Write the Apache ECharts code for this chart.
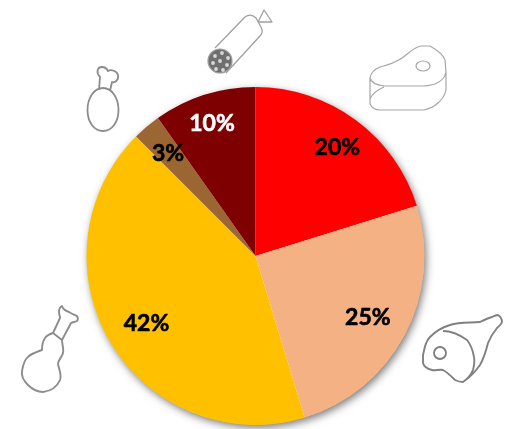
<!DOCTYPE html>
<html>
<head>
<meta charset="utf-8">
<style>html,body{margin:0;padding:0;background:#fff}#c{width:507px;height:429px}</style>
<script src="https://cdn.jsdelivr.net/npm/echarts@6/dist/echarts.min.js"></script>
</head>
<body>
<div id="c"></div>
<script>
const names = ['Red meat', 'Ham', 'Poultry', 'Chicken', 'Sausage'];
const values = [20.2, 25.1, 42.2, 2.7, 9.8];
const colors = ['#FF0000', '#F4B183', '#FFC000', '#9C6632', '#7F0000'];
const labelColors = ['#000', '#000', '#000', '#000', '#fff'];
const labelShiftX = [30, 35, -34, -31, -17];
const labelShiftY = [-38, 21, 23, -36, -49];

const iconPaths = [
  // sausage
  'M215,48 L245,17 C249,14 253,15 256,18 L261,27 C263,31 262,34 260,36 L226,73 M258,22 L272,22 L264,10 Z',
  // steak
  'M370,78 C371,72 375,69 380,67 C388,65 396,62 402,58 C408,54 414,47 421,46 L430,46 C437,50 443,54 445,60 L446,72 C445,78 440,82 435,84 C431,85 428,86 424,86 L384,86 C376,85 371,82 370,78 L370,104 C372,108 375,110 380,110 L424,110 C434,108 444,100 446,90 L446,72 M384,87 C377,90 372,94 370,99 M416,66 A7,5 0 1 0 430,66 A7,5 0 1 0 416,66 Z',
  // upper drumstick
  'M99,90 L100,77 C96,73 97,67 102,67 C105,67 107,69 108,71 C111,69 117,71 118,75 C119,80 115,83 112,82 L110,91 M87.5,110 C87.5,98 94,88 103,88 C112,88 118.5,98 118.5,110 C118.5,122 112,131 103,131 C94,131 87.5,122 87.5,110 Z',
  // lower drumstick
  'M62,306 C63,310 66,311 69,312 C72,314 75,315 77,316 C78,318 78,320 77,321 C75,322 73,322 71,323 L62,340 C62,344 64,349 63,353 C62,357 58,360 58,364 C59,369 62,375 60,380 C57,387 51,391 43,392 C37,392 31,388 28,385 C24,381 21,376 22,371 C23,365 25,359 28,357 C32,353 37,352 42,350 C42,346 43,341 45,338 C47,335 50,334 53,333 L60,318 C60,316 59,314 59,312 C59,309 60,307 62,306 Z M53,333 L62,340',
  // ham
  'M423,355 C425,346 426,341 430,337 C436,331 443,327 450,325 C460,322 470,323 480,322 C484,320 488,318 492,317 C494,316 496,315 498,315 C501,317 502,320 502,322 C501,325 499,326 497,328 C493,333 490,338 488,343 C486,351 484,358 480,365 C475,372 469,378 463,382 C460,382 457,381 455,380 C451,376 447,372 443,370 C439,369 435,371 432,370 C428,369 424,367 423,363 Z M443,331 C451,331 460,335 467,340 C471,345 473,351 474,357 C475,362 474,366 473,370 C471,375 467,379 463,382 M434,353 A6,6 0 1 0 446,353 A6,6 0 1 0 434,353 Z'
];
const iconColors = ['#a0a0a0', '#a6a6a6', '#8c8c8c', '#8c8c8c', '#808080'];
const iconWidths = [1.3, 1.2, 1.8, 1.9, 1.9];
const sausageEnd = [220, 61, 12];
const sausageDots = [[215,56],[222,53],[228,58],[213,63],[220,61],[227,65],[216,69],[223,70]];

const chart = echarts.init(document.getElementById('c'), null, {renderer: 'canvas'});
const cx = 255.5, cy = 256, R = 169;

const iconEls = [{
  type: 'circle', z2: 1,
  shape: {cx: sausageEnd[0], cy: sausageEnd[1], r: sausageEnd[2]},
  style: {fill: '#6f6f6f', stroke: '#a0a0a0', lineWidth: 1.2}
}];
sausageDots.forEach(d => iconEls.push({
  type: 'circle', z2: 2,
  shape: {cx: d[0], cy: d[1], r: 1.9},
  style: {fill: '#d8d8d8'}
}));

chart.setOption({
  animation: false,
  backgroundColor: '#ffffff',
  graphic: {
    elements: [{
      type: 'circle', z: 0,
      shape: {cx: cx, cy: cy, r: R - 0.5},
      style: {fill: '#ffffff', shadowBlur: 9, shadowOffsetX: 2, shadowOffsetY: 3, shadowColor: 'rgba(0,0,0,0.55)'}
    }]
  },
  series: [{
    type: 'pie',
    center: [cx, cy],
    radius: [0, R],
    startAngle: 90,
    clockwise: true,
    silent: true,
    data: values.map((v, i) => ({
      value: v,
      name: names[i],
      itemStyle: {color: colors[i]},
      label: {color: labelColors[i], textBorderColor: labelColors[i], textBorderWidth: 0.6}
    })),
    itemStyle: {borderWidth: 0},
    label: {
      show: true,
      position: 'inside',
      formatter: p => Math.round(p.value) + '%',
      fontFamily: 'Lato',
      fontWeight: 'bold',
      fontSize: 23
    },
    labelLine: {show: false},
    labelLayout: p => ({dx: labelShiftX[p.dataIndex], dy: labelShiftY[p.dataIndex]})
  }, {
    type: 'custom',
    coordinateSystem: 'none',
    silent: true,
    z: 5,
    data: [0],
    renderItem: () => ({
      type: 'group',
      children: iconPaths.map((p, i) => ({
        type: 'path',
        shape: {pathData: p},
        style: {fill: 'none', stroke: iconColors[i], lineWidth: iconWidths[i], lineJoin: 'round'}
      })).concat(iconEls)
    })
  }]
});
</script>
</body>
</html>
